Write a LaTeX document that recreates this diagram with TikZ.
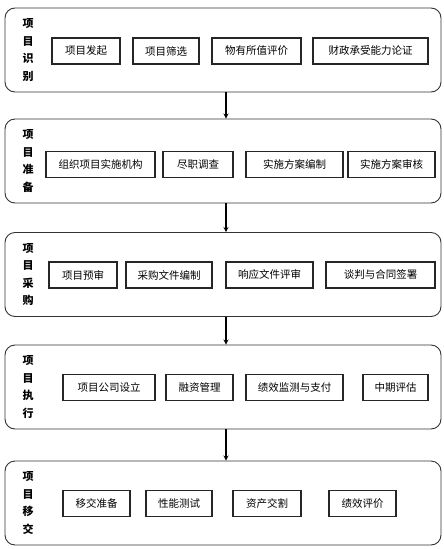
\documentclass[tikz,border=0pt]{standalone}
\usepackage{fontspec}
\setmainfont{Noto Sans CJK SC}
\usetikzlibrary{calc}

\begin{document}
\begin{tikzpicture}[>=stealth, x=1pt, y=-1pt,
    stage/.style={draw=black!80, rounded corners=10pt, line width=.9pt, minimum width=436pt, minimum height=84pt},
    task/.style={draw=black!85, line width=1.1pt, minimum height=26pt, inner sep=0pt, font=\fontsize{10.5}{12}\selectfont},
    phase/.style={align=center, inner sep=0pt, font=\bfseries\fontsize{11}{17.5}\selectfont}]
    \useasboundingbox (0,0) rectangle (444,549);
    % stages
    \foreach \i/\y/\t in {1/50/{项\\目\\识\\别}, 2/161/{项\\目\\准\\备}, 3/274.5/{项\\目\\采\\购}, 4/387/{项\\目\\执\\行}, 5/503/{项\\目\\移\\交}}
    {\node[stage](s\i) at (223,\y) {};
    \node[phase](p\i) at (28,\y) {\t};}
    % tasks
    \foreach \j/\x/\w/\t in {1/86/68/项目发起, 2/166/66/项目筛选, 3/256.5/89/物有所值评价, 4/370.5/115/财政承受能力论证}
    {\node[task, minimum width=\w pt](s1-\j) at (\x,51) {\t};}
    \foreach \j/\x/\w/\t in {1/100.5/109/组织项目实施机构, 2/198/70/尽职调查, 3/294.5/97/实施方案编制, 4/391.5/87/实施方案审核}
    {\node[task, minimum width=\w pt](s2-\j) at (\x,164.5) {\t};}
    \foreach \j/\x/\w/\t in {1/83/68/项目预审, 2/169/86/采购文件编制, 3/269.5/87/响应文件评审, 4/380.5/109/谈判与合同签署}
    {\node[task, minimum width=\w pt](s3-\j) at (\x,275) {\t};}
    \foreach \j/\x/\w/\t in {1/109/92/项目公司设立, 2/199.5/67/融资管理, 3/294.5/97/绩效监测与支付, 4/395.5/65/中期评估}
    {\node[task, minimum width=\w pt](s4-\j) at (\x,387.5) {\t};}
    \foreach \j/\x/\w/\t in {1/96.5/67/移交准备, 2/179/66/性能测试, 3/267/68/资产交割, 4/362.5/67/绩效评价}
    {\node[task, minimum width=\w pt](s5-\j) at (\x,503.5) {\t};}
    % arrows
    \foreach \i in {1, 2, 3, 4}
    {\pgfmathtruncatemacro{\j}{\i + 1}
    \draw[->, line width=1.2pt]([xshift=3pt]s\i.south) -- ([xshift=3pt]s\j.north);}
\end{tikzpicture}
\end{document}
